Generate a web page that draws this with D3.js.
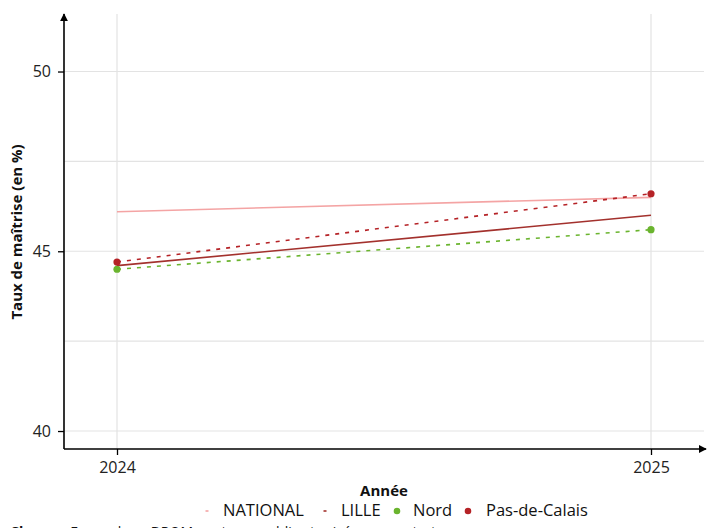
<!DOCTYPE html>
<html><head><meta charset="utf-8">
<script src="https://cdn.jsdelivr.net/npm/d3@7"></script>
<style>
html,body{margin:0;padding:0;background:#fff;overflow:hidden;}
svg{display:block;font-family:"Open Sans","Noto Sans",sans-serif;}
</style></head>
<body>
<svg id="chart" width="717" height="528"></svg>
<script>
const years = [2024, 2025];
const seriesNames = ["NATIONAL", "LILLE", "Nord", "Pas-de-Calais"];
const nationalValues = [46.1, 46.5];
const lilleValues = [44.6, 46.0];
const nordValues = [44.5, 45.6];
const pasDeCalaisValues = [44.7, 46.6];
const yTicks = [40, 45, 50];
const yMinorTicks = [42.5, 47.5];
const xTickLabels = ["2024", "2025"];

(function(){
const colors = {"NATIONAL":"#f4a4a4","LILLE":"#a3312d","Nord":"#6ab42e","Pas-de-Calais":"#b52226"};
const series = [
  {name:seriesNames[0], values:nationalValues, dash:null, points:false},
  {name:seriesNames[1], values:lilleValues, dash:null, points:false},
  {name:seriesNames[2], values:nordValues, dash:"4,6", points:true},
  {name:seriesNames[3], values:pasDeCalaisValues, dash:"4,6", points:true}
];

const svg = d3.select("#chart");
const pLeft = 64, pRight = 702, pTop = 14, pBottom = 449;
const xs = d3.scaleLinear().domain([2024, 2025]).range([117, 651]);
const y = d3.scaleLinear().domain([39.5, 51.6]).range([pBottom, pTop]);

// grid
const g = svg.append("g");
g.selectAll("line.h").data(yTicks.concat(yMinorTicks)).join("line")
  .attr("x1", pLeft).attr("x2", 704).attr("y1", d=>y(d)).attr("y2", d=>y(d))
  .attr("stroke", "#e3e3e3").attr("stroke-width", 1.2);
g.selectAll("line.v").data(years).join("line")
  .attr("x1", d=>xs(d)).attr("x2", d=>xs(d)).attr("y1", pTop).attr("y2", pBottom)
  .attr("stroke", "#e3e3e3").attr("stroke-width", 1.2);

// lines
const line = d3.line().x((d,i)=>xs(years[i])).y(d=>y(d));
series.forEach(s=>{
  svg.append("path").datum(s.values).attr("d", line)
    .attr("fill","none").attr("stroke", colors[s.name]).attr("stroke-width", 1.6)
    .attr("stroke-dasharray", s.dash);
});
series.filter(s=>s.points).forEach(s=>{
  svg.append("g").selectAll("circle").data(s.values).join("circle")
    .attr("cx",(d,i)=>xs(years[i])).attr("cy", d=>y(d)).attr("r", 3.6)
    .attr("fill", colors[s.name]);
});

// axes
const defs = svg.append("defs");
defs.append("marker").attr("id","arr").attr("viewBox","0 0 10 10").attr("refX",9).attr("refY",5)
  .attr("markerWidth",8).attr("markerHeight",8).attr("orient","auto-start-reverse").attr("markerUnits","userSpaceOnUse")
  .append("path").attr("d","M0,0L10,5L0,10z").attr("fill","#000");

const yAxis = d3.axisLeft(y).tickValues(yTicks).tickSize(6).tickPadding(7);
const ya = svg.append("g").attr("transform",`translate(${pLeft},0)`).call(yAxis);
ya.select(".domain").remove();
ya.selectAll("text").attr("font-size", 16).attr("fill","#222").attr("font-family","Open Sans, sans-serif");
ya.selectAll("line").attr("stroke","#000").attr("stroke-width",1.3);
svg.append("line").attr("x1",pLeft).attr("x2",pLeft).attr("y1",pBottom).attr("y2",pTop)
  .attr("stroke","#000").attr("stroke-width",1.6).attr("marker-end","url(#arr)");

const xAxis = d3.axisBottom(xs).tickValues(years).tickFormat((d,i)=>xTickLabels[i]).tickSize(6).tickPadding(7);
const xa = svg.append("g").attr("transform",`translate(0,${pBottom})`).call(xAxis);
xa.select(".domain").remove();
xa.selectAll("text").attr("font-size", 16).attr("fill","#222").attr("font-family","Open Sans, sans-serif");
xa.selectAll("line").attr("stroke","#000").attr("stroke-width",1.3);
svg.append("line").attr("x1",pLeft).attr("x2",pRight+4).attr("y1",pBottom).attr("y2",pBottom)
  .attr("stroke","#000").attr("stroke-width",1.6).attr("marker-end","url(#arr)");

// titles
svg.append("text").attr("x",384).attr("y",496).attr("text-anchor","middle")
  .attr("font-size",15).attr("font-weight","bold").attr("fill","#111").text("Année");
svg.append("text").attr("transform","translate(22,232) rotate(-90)").attr("text-anchor","middle")
  .attr("font-size",15).attr("font-weight","bold").attr("fill","#111").text("Taux de maîtrise (en %)");

// legend
const legendItems = [
  {name:seriesNames[0], kind:"line", gx:207, tx:223},
  {name:seriesNames[1], kind:"line", gx:325, tx:341},
  {name:seriesNames[2], kind:"dot", gx:397, tx:413},
  {name:seriesNames[3], kind:"dot", gx:468, tx:486}
];
const lg = svg.append("g");
legendItems.forEach(it=>{
  if(it.kind==="line"){
    lg.append("line").attr("x1",it.gx-1.5).attr("x2",it.gx+1.5).attr("y1",511).attr("y2",511)
      .attr("stroke",colors[it.name]).attr("stroke-width",1.6);
  } else {
    lg.append("circle").attr("cx",it.gx).attr("cy",511).attr("r",3.3).attr("fill",colors[it.name]);
  }
  lg.append("text").attr("x",it.tx).attr("y",516).attr("font-size",16.5).attr("fill","#111").text(it.name);
});

// caption (cut off at the bottom edge, as in the reference)
svg.append("text").attr("x",10).attr("y",537).attr("font-size",14).attr("fill","#111")
  .html('<tspan font-weight="bold">Champ</tspan> : France hors DROM, secteurs public et privé sous contrat');
})();
</script>
</body></html>
